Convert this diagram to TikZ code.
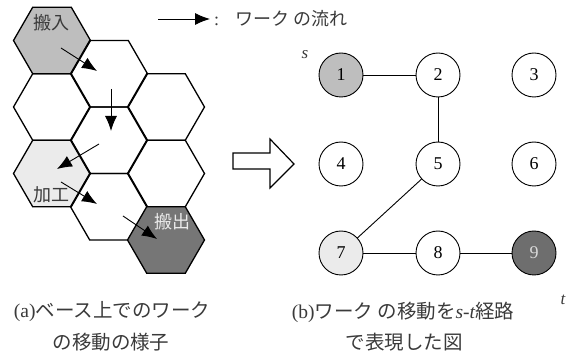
\documentclass[tikz,border=0pt]{standalone}
\usepackage{fontspec}
\setmainfont{Liberation Serif}
\newfontfamily\jp{Noto Sans CJK JP}
\usetikzlibrary{shapes.geometric,arrows.meta}
\definecolor{gA}{HTML}{BEBEBE}
\definecolor{gB}{HTML}{EBEBEB}
\definecolor{gC}{HTML}{767676}
\definecolor{gD}{HTML}{6E6E6E}
\definecolor{txt}{HTML}{3A3A3A}
\begin{document}
\begin{tikzpicture}[x=1pt,y=-1pt,
  hexa/.style={regular polygon,regular polygon sides=6,minimum size=77pt,inner sep=0pt,draw,line width=1.3pt},
  vtx/.style={circle,draw,line width=0.9pt,minimum size=44pt,inner sep=0pt,font=\fontsize{18}{18}\selectfont},
  flow/.style={-{Latex[length=15pt,width=12pt]},line width=0.9pt},
  linkline/.style={line width=0.9pt},
  jlbl/.style={font=\jp\fontsize{18}{18}\selectfont,text=txt,inner sep=0pt},
  captext/.style={font=\fontsize{19.5}{19.5}\selectfont,text=txt,inner sep=0pt},
  ital/.style={font=\itshape\fontsize{17}{17}\selectfont,text=txt,inner sep=0pt}]
\useasboundingbox (0,0) rectangle (566,358);
% hexagons
\node[hexa,fill=gA] (h1) at (52,40.5) {};
\node[hexa] (h4) at (52,107) {};
\node[hexa,fill=gB] (h7) at (52,173.5) {};
\node[hexa] (h2) at (109,73.75) {};
\node[hexa] (h5) at (109,140.25) {};
\node[hexa] (h8) at (109,206.75) {};
\node[hexa] (h3) at (166,107) {};
\node[hexa] (h6) at (166,173.5) {};
\node[hexa,fill=gC] (h9) at (166,240) {};
\node[jlbl] (t1) at (52,23) {搬入};
\node[jlbl] (t7) at (52,195) {加工};
\node[jlbl,text=white!92!black] (t9) at (172,222) {搬出};
% flow arrows
\coordinate (f1a) at (61,48);  \coordinate (f1b) at (97,71);
\coordinate (f2a) at (111,89); \coordinate (f2b) at (111,131);
\coordinate (f3a) at (99,144); \coordinate (f3b) at (57,169);
\coordinate (f4a) at (61,182); \coordinate (f4b) at (97,204);
\coordinate (f5a) at (123,216);\coordinate (f5b) at (157,239);
\draw[flow] (f1a) -- (f1b);
\draw[flow] (f2a) -- (f2b);
\draw[flow] (f3a) -- (f3b);
\draw[flow] (f4a) -- (f4b);
\draw[flow] (f5a) -- (f5b);
% legend
\coordinate (la) at (158,19); \coordinate (lb) at (210,19);
\draw[flow] (la) -- (lb);
\node[jlbl,anchor=west] (leg) at (214,19) {\fontspec{Liberation Serif}:\hspace{16pt}\jp ワーク の流れ};
% hollow arrow
\draw[line width=1.2pt,line join=miter] (233,153) -- (270,153) -- (270,139) -- (294,164) -- (270,188) -- (270,169) -- (233,169) -- cycle;
% graph
\node[vtx,fill=gA] (n1) at (341,75) {1};
\node[vtx] (n2) at (438,75) {2};
\node[vtx] (n3) at (534,75) {3};
\node[vtx] (n4) at (341,164) {4};
\node[vtx] (n5) at (438,164) {5};
\node[vtx] (n6) at (534,164) {6};
\node[vtx,fill=gB] (n7) at (341,253) {7};
\node[vtx] (n8) at (438,253) {8};
\node[vtx,fill=gD,text=white!85!black] (n9) at (534,253) {9};
\draw[linkline] (n1) -- (n2);
\draw[linkline] (n2) -- (n5);
\draw[linkline] (n5) -- (n7);
\draw[linkline] (n7) -- (n8);
\draw[linkline] (n8) -- (n9);
\node[ital] (s) at (305,55) {s};
\node[ital] (t) at (563,300) {t};
% captions
\node[captext] (ca1) at (112,312) {(a)\jp ベース上でのワーク};
\node[captext] (ca2) at (111,342) {\jp の移動の様子};
\node[captext] (cb1) at (403,312) {(b)\jp ワーク の移動を\rmfamily\itshape s-t\upshape\jp 経路};
\node[captext] (cb2) at (404,342) {\jp で表現した図};
\end{tikzpicture}
\end{document}
